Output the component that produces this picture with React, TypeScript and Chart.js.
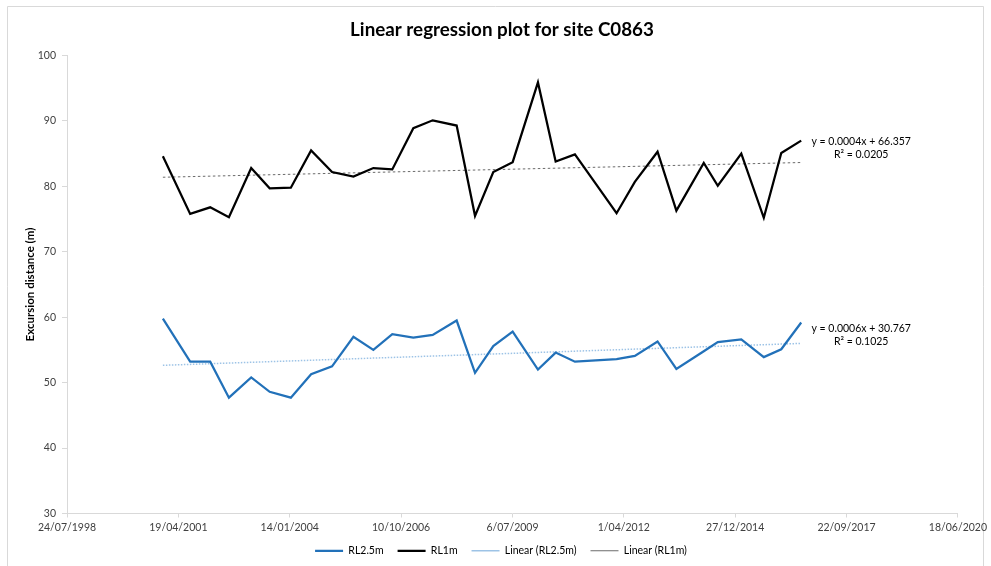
import React, { useEffect, useRef } from "react";
import { Chart, registerables } from "chart.js";

Chart.register(...registerables);

const sampleDates = [
  "2000-12-01", "2001-08-03", "2002-01-30", "2002-07-17", "2003-02-02", "2003-07-18",
  "2004-01-24", "2004-07-24", "2005-01-28", "2005-08-08", "2006-02-03", "2006-07-23",
  "2007-01-28", "2007-07-21", "2008-02-21", "2008-08-04", "2009-01-15", "2009-07-08",
  "2010-02-20", "2010-07-29", "2011-01-18", "2011-07-25", "2012-01-27", "2012-07-09",
  "2013-01-29", "2013-07-17", "2014-03-20", "2014-07-24", "2015-02-20", "2015-09-10",
  "2016-02-14", "2016-08-11",
];

const rl25Values = [
  59.8, 53.2, 53.2, 47.7, 50.8, 48.6, 47.7, 51.3, 52.5, 57.0, 55.0, 57.4,
  56.9, 57.3, 59.5, 51.5, 55.6, 57.8, 52.0, 54.6, 53.2, 53.4, 53.6, 54.1,
  56.3, 52.1, 54.8, 56.2, 56.6, 53.9, 55.1, 59.2,
];

const rl1Values = [
  84.6, 75.8, 76.8, 75.3, 82.8, 79.7, 79.8, 85.5, 82.2, 81.5, 82.8, 82.6,
  88.9, 90.1, 89.3, 75.5, 82.2, 83.7, 95.9, 83.8, 84.9, 80.4, 75.9, 80.7,
  85.3, 76.3, 83.6, 80.1, 85.0, 75.2, 85.1, 87.0,
];

// trendline values at the first and last sample dates
const trendRL25 = [52.65, 56.0];
const trendRL1 = [81.4, 83.65];

const trendLabelRL25 = ["y = 0.0006x + 30.767", "R\u00B2 = 0.1025"];
const trendLabelRL1 = ["y = 0.0004x + 66.357", "R\u00B2 = 0.0205"];

const xTickDates = [
  "1998-07-24", "2001-04-19", "2004-01-14", "2006-10-10", "2009-07-06",
  "2012-04-01", "2014-12-27", "2017-09-22", "2020-06-18",
];
const yTicks = [30, 40, 50, 60, 70, 80, 90, 100];

const seriesNames = ["RL2.5m", "RL1m", "Linear (RL2.5m)", "Linear (RL1m)"];

const EPOCH = Date.UTC(1899, 11, 30);
const toSerial = (iso: string) => {
  const [y, m, d] = iso.split("-").map(Number);
  return Math.round((Date.UTC(y, m - 1, d) - EPOCH) / 86400000);
};
const fmtSerial = (s: number) => {
  const dt = new Date(EPOCH + s * 86400000);
  const d = dt.getUTCDate();
  const m = dt.getUTCMonth() + 1;
  return `${d}/${String(m).padStart(2, "0")}/${dt.getUTCFullYear()}`;
};

const FONT = "Lato, 'Open Sans', sans-serif";

export default function App() {
  const ref = useRef<HTMLCanvasElement | null>(null);

  useEffect(() => {
    if (!ref.current) return;
    const xs = sampleDates.map(toSerial);
    const tickSerials = xTickDates.map(toSerial);
    const first = xs[0];
    const last = xs[xs.length - 1];

    const trendLabels = {
      id: "trendLabels",
      afterDatasetsDraw(chart: any) {
        const { ctx, scales } = chart;
        const xPix = scales.x.getPixelForValue(last) + 60;
        const items = [
          { lines: trendLabelRL1, y: scales.y.getPixelForValue(rl1Values[rl1Values.length - 1]) + 1.5 },
          { lines: trendLabelRL25, y: scales.y.getPixelForValue(rl25Values[rl25Values.length - 1]) + 6.5 },
        ];
        ctx.save();
        ctx.font = `10.5px ${FONT}`;
        ctx.fillStyle = "#000";
        ctx.textAlign = "center";
        ctx.textBaseline = "middle";
        items.forEach((it) => {
          it.lines.forEach((t, i) => ctx.fillText(t, xPix, it.y + i * 13));
        });
        ctx.restore();
      },
    };

    // centre title and legend on the whole frame rather than the padded box
    const recentre = {
      id: "recentre",
      afterLayout(chart: any) {
        const t = chart.titleBlock;
        if (t) {
          t.left += 23;
          t.right += 23;
        }
        const l = chart.legend;
        if (l) {
          l.left += 22;
          l.right += 22;
        }
      },
    };

    const frame = {
      id: "frame",
      beforeDraw(chart: any) {
        const { ctx } = chart;
        ctx.save();
        ctx.fillStyle = "#fff";
        ctx.fillRect(0, 0, chart.width, chart.height);
        ctx.strokeStyle = "#d9d9d9";
        ctx.lineWidth = 1;
        ctx.beginPath();
        ctx.moveTo(7.5, chart.height);
        ctx.lineTo(7.5, 6.5);
        ctx.lineTo(983.5, 6.5);
        ctx.lineTo(983.5, chart.height);
        ctx.stroke();
        ctx.restore();
      },
    };

    const chart = new Chart(ref.current, {
      type: "line",
      data: {
        datasets: [
          {
            label: seriesNames[0],
            data: xs.map((x, i) => ({ x, y: rl25Values[i] })),
            borderColor: "#2271B9",
            backgroundColor: "#2271B9",
            borderWidth: 2.25,
            pointRadius: 0,
            tension: 0,
          },
          {
            label: seriesNames[1],
            data: xs.map((x, i) => ({ x, y: rl1Values[i] })),
            borderColor: "#000000",
            backgroundColor: "#000000",
            borderWidth: 2.25,
            pointRadius: 0,
            tension: 0,
          },
          {
            label: seriesNames[2],
            data: [
              { x: first, y: trendRL25[0] },
              { x: last, y: trendRL25[1] },
            ],
            borderColor: "#9DC3E6",
            backgroundColor: "#9DC3E6",
            borderWidth: 1.5,
            borderDash: [1.5, 1.5],
            pointRadius: 0,
          },
          {
            label: seriesNames[3],
            data: [
              { x: first, y: trendRL1[0] },
              { x: last, y: trendRL1[1] },
            ],
            borderColor: "#6b6b6b",
            backgroundColor: "#6b6b6b",
            borderWidth: 1,
            borderDash: [2.5, 2.5],
            pointRadius: 0,
          },
        ],
      },
      options: {
        responsive: false,
        animation: false,
        layout: { padding: { left: 0, right: 33, top: 0, bottom: 0 } },
        plugins: {
          tooltip: { enabled: false },
          title: {
            display: true,
            text: "Linear regression plot for site C0863",
            color: "#000",
            font: { family: FONT, size: 18.8, weight: "bold" },
            padding: { top: 19, bottom: 14 },
          },
          legend: {
            position: "bottom",
            labels: {
              usePointStyle: true,
              pointStyle: "line",
              pointStyleWidth: 28,
              color: "#000",
              font: { family: FONT, size: 10.5 },
              padding: 14,
            },
          },
        },
        scales: {
          x: {
            type: "linear",
            min: toSerial("1998-07-24"),
            max: toSerial("2020-06-18"),
            afterBuildTicks: (s: any) => {
              s.ticks = tickSerials.map((v) => ({ value: v }));
            },
            afterFit: (s: any) => {
              s.height = 18;
            },
            ticks: {
              autoSkip: false,
              maxRotation: 0,
              color: "#404040",
              font: { family: FONT, size: 10.5 },
              padding: 4,
              callback: (v: any) => fmtSerial(Number(v)),
            },
            grid: { drawOnChartArea: false, tickLength: 4, color: "#d9d9d9" },
            border: { color: "#d9d9d9" },
          },
          y: {
            min: 30,
            max: 100,
            afterBuildTicks: (s: any) => {
              s.ticks = yTicks.map((v) => ({ value: v }));
            },
            afterFit: (s: any) => {
              s.width = 67;
            },
            ticks: {
              color: "#404040",
              font: { family: FONT, size: 10.5 },
              padding: 6,
            },
            grid: { drawOnChartArea: false, tickLength: 5, color: "#d9d9d9" },
            border: { color: "#d9d9d9" },
            title: {
              display: true,
              text: "Excursion distance (m)",
              color: "#000",
              font: { family: FONT, size: 11.5, weight: "bold" },
              padding: { top: 23, bottom: 0 },
            },
          },
        },
      },
      plugins: [frame, recentre, trendLabels],
    } as any);

    return () => chart.destroy();
  }, []);

  return (
    <div style={{ position: "absolute", left: 0, top: 0, width: 991, height: 566 }}>
      <canvas ref={ref} width={991} height={566} />
    </div>
  );
}
